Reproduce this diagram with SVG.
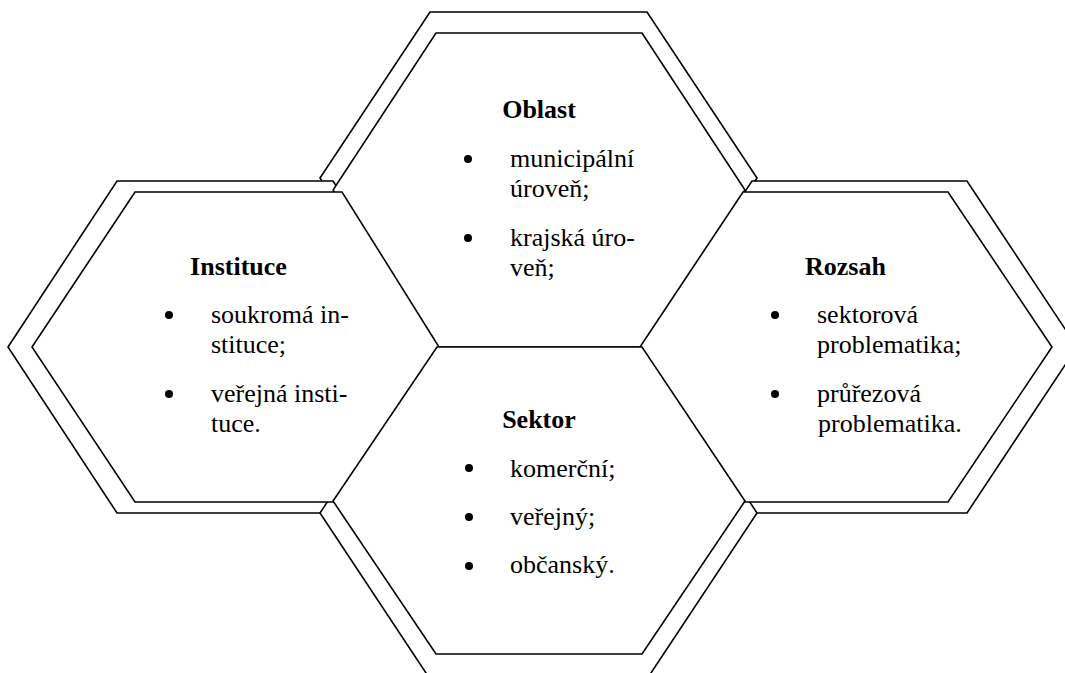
<svg xmlns="http://www.w3.org/2000/svg" width="1065" height="673" viewBox="0 0 1065 673">
<style>
.hex{fill:#fff;stroke:#000;stroke-width:1.6;stroke-linejoin:miter}
text{font-family:"Liberation Serif","Times New Roman",serif;font-size:26px;fill:#000}
.t{font-weight:bold;text-anchor:middle}
.b{fill:#000}
</style>
<rect width="1065" height="673" fill="#fff"/>
<g id="frames">
<polygon id="frame-oblast" class="hex" points="430,12 647,12 757,178 647,344 430,344 320,178"/>
<polygon id="frame-instituce" class="hex" points="117,181 333,181 442,347 333,513 117,513 8,347"/>
<polygon id="frame-rozsah" class="hex" points="752,181 967,181 1077,347 967,513 752,513 642,347"/>
<polygon id="frame-sektor" class="hex" points="430,347 647,347 757,513 647,679 430,679 320,513"/>
</g>
<g id="oblast">
<polygon class="hex" points="436,33 642,33 745,190 642,347 436,347 333,190"/>
<text class="t" x="539" y="118">Oblast</text>
<circle class="b" cx="468" cy="159" r="4"/>
<text x="510" y="167">municipální</text>
<text x="510" y="197">úroveň;</text>
<circle class="b" cx="468" cy="238" r="4"/>
<text x="510" y="246">krajská úro-</text>
<text x="510" y="276">veň;</text>
</g>
<g id="rozsah">
<polygon class="hex" points="743,192 948,192 1052,347 948,502 743,502 640,347"/>
<text class="t" x="845.5" y="275">Rozsah</text>
<circle class="b" cx="775" cy="315" r="4"/>
<text x="817" y="323">sektorová</text>
<text x="817" y="353">problematika;</text>
<circle class="b" cx="775" cy="394" r="4"/>
<text x="817" y="402">průřezová</text>
<text x="818" y="432">problematika.</text>
</g>
<g id="instituce">
<polygon class="hex" points="135,192 342,192 439,347 342,502 135,502 32,347"/>
<text class="t" x="238.5" y="275">Instituce</text>
<circle class="b" cx="169" cy="315" r="4"/>
<text x="211" y="323">soukromá in-</text>
<text x="211" y="353">stituce;</text>
<circle class="b" cx="169" cy="394" r="4"/>
<text x="211" y="402">veřejná insti-</text>
<text x="211" y="432">tuce.</text>
</g>
<g id="sektor">
<polygon class="hex" points="437,347 642,347 745,501 642,654 436,654 333,501"/>
<text class="t" x="539" y="428">Sektor</text>
<circle class="b" cx="469" cy="468" r="4"/>
<text x="510" y="477">komerční;</text>
<circle class="b" cx="469" cy="517" r="4"/>
<text x="510" y="525">veřejný;</text>
<circle class="b" cx="469" cy="566" r="4"/>
<text x="510" y="573">občanský.</text>
</g>
<g id="connectors"/>
</svg>
